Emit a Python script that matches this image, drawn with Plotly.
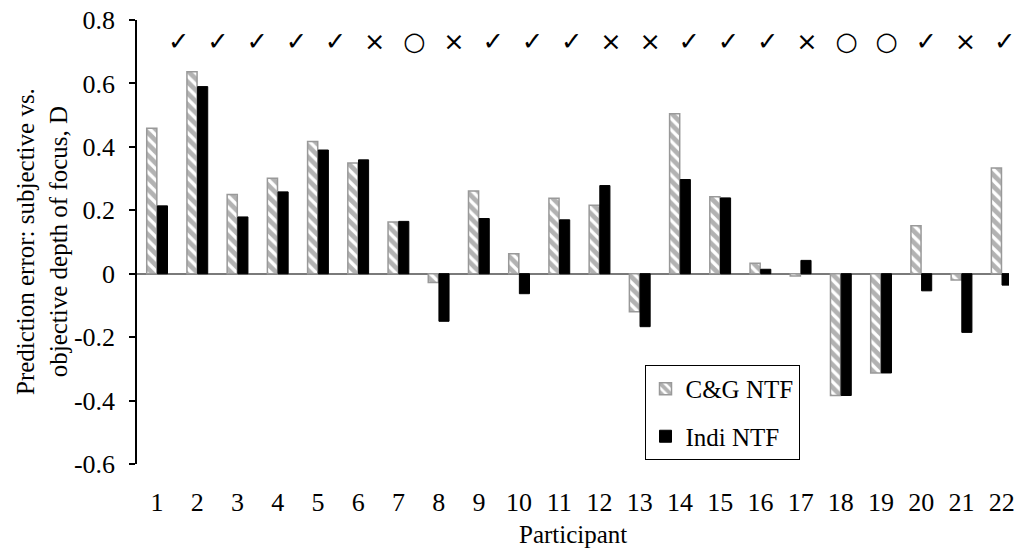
import plotly.graph_objects as go

participants = list(range(1, 23))
cg_ntf = [0.459, 0.637, 0.250, 0.301, 0.417, 0.349, 0.163, -0.028, 0.261, 0.063, 0.238,
          0.216, -0.120, 0.504, 0.243, 0.033, -0.007, -0.384, -0.313, 0.151, -0.020, 0.333]
indi_ntf = [0.214, 0.590, 0.179, 0.258, 0.390, 0.359, 0.165, -0.150, 0.174, -0.063, 0.170,
            0.278, -0.167, 0.297, 0.239, 0.014, 0.042, -0.384, -0.313, -0.054, -0.185, -0.036]
marks = ["✓", "✓", "✓", "✓", "✓", "×", "○", "×", "✓", "✓", "✓",
         "×", "×", "✓", "✓", "✓", "×", "○", "○", "✓", "×", "✓"]
y_tick_vals = [0.8, 0.6, 0.4, 0.2, 0, -0.2, -0.4, -0.6]
y_tick_text = ["0.8", "0.6", "0.4", "0.2", "0", "-0.2", "-0.4", "-0.6"]

FONT = "'Liberation Serif', 'Times New Roman', serif"

fig = go.Figure()
fig.add_trace(go.Bar(
    x=participants, y=cg_ntf, name="C&G NTF", legendgroup="a",
    marker=dict(color="white", line=dict(color="#999999", width=1.5),
                pattern=dict(shape="\\", fgcolor="#666666", bgcolor="white", size=8, solidity=0.6)),
))
fig.add_trace(go.Bar(
    x=participants, y=indi_ntf, name="Indi NTF", legendgroup="b",
    marker=dict(color="black", line=dict(color="black", width=1)),
))

fig.add_annotation(
    text="\u2002\u2009".join(marks), x=0.521, xref="paper", y=0.734, yref="y",
    xanchor="center", yanchor="middle", showarrow=False,
    font=dict(family="DejaVu Sans", size=25.5, color="black"),
)
fig.add_annotation(
    text="Prediction error: subjective vs.<br>objective depth of focus, D",
    x=0, xref="paper", y=0.5, yref="paper", xanchor="right", yanchor="middle",
    xshift=-63, textangle=-90, showarrow=False,
    font=dict(family=FONT, size=25, color="black"),
)
fig.add_annotation(
    text="Participant", x=0.5, xref="paper", y=0, yref="paper",
    xanchor="center", yanchor="middle", yshift=-70, showarrow=False,
    font=dict(family=FONT, size=25, color="black"),
)

fig.update_layout(
    width=1015, height=548,
    margin=dict(l=137, r=0, t=20, b=84),
    paper_bgcolor="white", plot_bgcolor="white",
    barmode="group", bargap=0.47, bargroupgap=0.05,
    font=dict(family=FONT, size=25, color="black"),
    showlegend=True,
    legend=dict(x=0.582, y=0.223, xanchor="left", yanchor="top",
                bordercolor="black", borderwidth=1, bgcolor="white",
                traceorder="grouped", tracegroupgap=12,
                font=dict(family=FONT, size=25, color="black")),
    xaxis=dict(range=[0.5, 22.18], tickvals=participants, ticktext=[str(p) for p in participants],
               showline=False, showgrid=False, zeroline=False, ticks="",
               ticklabelstandoff=20, ticklabeloverflow="allow",
               tickfont=dict(family=FONT, size=26)),
    yaxis=dict(range=[-0.6, 0.8], tickvals=y_tick_vals, ticktext=y_tick_text,
               showline=True, linecolor="black", linewidth=1.5, ticks="outside",
               ticklen=6, tickwidth=1.5, tickcolor="black", ticklabelstandoff=9,
               showgrid=False, zeroline=True, zerolinecolor="#7a7a7a", zerolinewidth=1.5,
               tickfont=dict(family=FONT, size=26)),
)

fig.write_html("out.html")
